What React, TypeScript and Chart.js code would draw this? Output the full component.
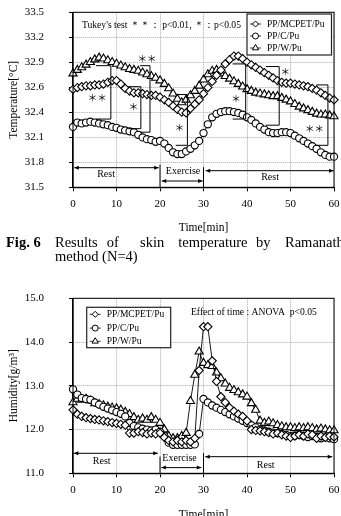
import { useEffect, useRef } from "react";
import { Chart, registerables } from "chart.js";

Chart.register(...registerables);

const SERIF = '"Liberation Serif", "Times New Roman", serif';

// Time axis (minutes)
const minutes = [
  0, 1, 2, 3, 4, 5, 6, 7, 8, 9,
  10, 11, 12, 13, 14, 15, 16, 17, 18, 19,
  20, 21, 22, 23, 24, 25, 26, 27, 28, 29,
  30, 31, 32, 33, 34, 35, 36, 37, 38, 39,
  40, 41, 42, 43, 44, 45, 46, 47, 48, 49,
  50, 51, 52, 53, 54, 55, 56, 57, 58, 59, 60,
];

const seriesNames = ["PP/MCPET/Pu", "PP/C/Pu", "PP/W/Pu"];
const seriesMarkers = ["rectRot", "circle", "triangle"];

// Skin temperature (°C)
const tempMCPET = [
  32.62, 32.64, 32.65, 32.66, 32.66, 32.67, 32.67, 32.68, 32.70, 32.72,
  32.72, 32.68, 32.63, 32.60, 32.58, 32.58, 32.57, 32.56, 32.55, 32.55,
  32.53, 32.50, 32.47, 32.43, 32.39, 32.36, 32.35, 32.40, 32.45, 32.50,
  32.57, 32.64, 32.71, 32.78, 32.84, 32.91, 32.96, 33.00, 33.00, 32.97,
  32.93, 32.90, 32.87, 32.84, 32.81, 32.78, 32.75, 32.72, 32.70, 32.69,
  32.69, 32.68, 32.67, 32.66, 32.65, 32.63, 32.61, 32.58, 32.55, 32.52, 32.50,
];
const tempC = [
  32.19, 32.24, 32.23, 32.24, 32.25, 32.24, 32.23, 32.22, 32.21, 32.19,
  32.18, 32.16, 32.15, 32.14, 32.13, 32.10, 32.07, 32.05, 32.04, 32.02,
  32.03, 32.00, 31.95, 31.90, 31.88, 31.88, 31.91, 31.94, 31.98, 32.03,
  32.12, 32.22, 32.30, 32.34, 32.36, 32.37, 32.37, 32.36, 32.35, 32.33,
  32.30, 32.27, 32.23, 32.19, 32.16, 32.13, 32.12, 32.12, 32.13, 32.13,
  32.12, 32.09, 32.06, 32.03, 32.00, 31.97, 31.94, 31.90, 31.87, 31.85, 31.85,
];
const tempW = [
  32.80, 32.84, 32.87, 32.90, 32.93, 32.96, 32.98, 32.97, 32.95, 32.93,
  32.91, 32.89, 32.87, 32.85, 32.84, 32.83, 32.81, 32.79, 32.77, 32.75,
  32.72, 32.68, 32.63, 32.57, 32.51, 32.47, 32.50, 32.55, 32.60, 32.66,
  32.73, 32.79, 32.83, 32.84, 32.80, 32.77, 32.74, 32.71, 32.68, 32.65,
  32.62, 32.60, 32.58, 32.57, 32.56, 32.55, 32.54, 32.54, 32.52, 32.50,
  32.48, 32.45, 32.42, 32.40, 32.38, 32.36, 32.34, 32.33, 32.33, 32.32, 32.31,
];

// Clothing microclimate humidity (g/m³)
const humMCPET = [
  12.45, 12.35, 12.30, 12.27, 12.25, 12.23, 12.22, 12.20, 12.18, 12.16,
  12.14, 12.12, 12.10, 11.92, 11.92, 11.95, 11.93, 11.90, 11.92, 11.90,
  11.92, 11.82, 11.75, 11.72, 11.75, 11.72, 11.75, 11.72, 11.80, 13.35,
  14.35, 14.35, 13.57, 13.10, 12.75, 12.62, 12.50, 12.42, 12.35, 12.30,
  12.20, 12.00, 11.98, 11.97, 11.95, 11.93, 11.90, 11.92, 11.88, 11.85,
  11.82, 11.85, 11.88, 11.85, 11.90, 11.88, 11.80, 11.85, 11.82, 11.85, 11.83,
];
const humC = [
  12.92, 12.80, 12.72, 12.70, 12.68, 12.62, 12.57, 12.52, 12.48, 12.44,
  12.40, 12.36, 12.30, 12.15, 12.08, 12.05, 12.02, 12.00, 11.98, 12.00,
  11.95, 11.85, 11.70, 11.65, 11.65, 11.65, 11.65, 11.65, 11.66, 11.90,
  12.70, 12.62, 12.55, 12.50, 12.45, 12.40, 12.35, 12.30, 12.25, 12.20,
  12.15, 12.10, 12.05, 12.00, 11.98, 11.95, 11.93, 11.92, 11.90, 11.88,
  11.85, 11.86, 11.88, 11.85, 11.83, 11.85, 11.83, 11.80, 11.82, 11.80, 11.78,
];
const humW = [
  12.62, 12.70, 12.68, 12.70, 12.66, 12.60, 12.58, 12.55, 12.52, 12.50,
  12.48, 12.45, 12.40, 12.35, 12.28, 12.22, 12.25, 12.22, 12.28, 12.22,
  12.15, 12.00, 11.85, 11.80, 11.80, 11.85, 11.92, 12.65, 13.25, 13.78,
  13.52, 13.47, 13.45, 13.30, 13.17, 13.05, 12.95, 12.90, 12.85, 12.80,
  12.75, 12.60, 12.45, 12.20, 12.15, 12.18, 12.14, 12.10, 12.07, 12.05,
  12.05, 12.03, 12.05, 12.03, 12.05, 12.03, 12.00, 12.02, 12.00, 11.98, 11.98,
];

// Tukey brackets on the temperature plot: [from min, to min, upper °C, lower °C]
const tempBrackets = [
  [5.3, 8.7, 32.89, 32.28],
  [12.7, 15.6, 32.65, 32.17],
  [15.4, 17.7, 32.89, 32.13],
  [23.6, 26.3, 32.56, 31.98],
  [36.7, 39.7, 32.91, 32.28],
  [44.3, 47.4, 32.88, 32.21],
  [55.9, 58.6, 32.67, 31.98],
];
// Significance marks: [label, min, °C]
const tempStars: [string, number, number][] = [
  ["＊＊", 5.6, 32.53],
  ["＊", 13.9, 32.42],
  ["＊＊", 17.0, 32.97],
  ["＊", 24.5, 32.19],
  ["＊", 37.5, 32.52],
  ["＊", 48.8, 32.82],
  ["＊＊", 55.5, 32.17],
];

// Phase annotations: arrows [from, to, level], dividers [at, top, bottom], labels
const tempArrows = [[0.3, 19.7, 31.724], [20.4, 29.8, 31.572], [30.5, 59.9, 31.69]];
const tempDividers = [[20, 31.76, 31.5], [30, 31.73, 31.5]];
const tempPhases: [string, number, number][] = [["Rest", 7.6, 31.649], ["Exercise", 25.3, 31.678], ["Rest", 45.3, 31.614]];

const humArrows = [[0.2, 19.5, 11.457], [20.3, 29.5, 11.13], [30.4, 59.6, 11.38]];
const humDividers = [[20, 11.38, 11], [30, 11.46, 11]];
const humPhases: [string, number, number][] = [["Rest", 6.6, 11.265], ["Exercise", 24.5, 11.33], ["Rest", 44.3, 11.19]];

function markerPath(ctx: CanvasRenderingContext2D, style: string, x: number, y: number, r: number) {
  ctx.beginPath();
  if (style === "circle") {
    ctx.arc(x, y, r, 0, Math.PI * 2);
  } else if (style === "rectRot") {
    ctx.moveTo(x - r, y);
    ctx.lineTo(x, y - r);
    ctx.lineTo(x + r, y);
    ctx.lineTo(x, y + r);
    ctx.closePath();
  } else {
    const a = (2 * Math.PI) / 3;
    ctx.moveTo(x, y - r);
    ctx.lineTo(x + Math.sin(a) * r, y - Math.cos(a) * r);
    ctx.lineTo(x + Math.sin(2 * a) * r, y - Math.cos(2 * a) * r);
    ctx.closePath();
  }
}

function arrowHead(ctx: CanvasRenderingContext2D, x: number, y: number, dir: number) {
  ctx.beginPath();
  ctx.moveTo(x, y);
  ctx.lineTo(x - dir * 4.5, y - 2);
  ctx.lineTo(x - dir * 4.5, y + 2);
  ctx.closePath();
  ctx.fill();
}

interface OverlaySpec {
  brackets: number[][];
  stars: [string, number, number][];
  arrows: number[][];
  dividers: number[][];
  phases: [string, number, number][];
  note: string;
  noteX: number;
  noteY: number;
  legendX: (a: { left: number; right: number }) => number;
  legendY: number;
  legendW: number;
  legendH: number;
  rowY: number[];
}

function makeOverlay(spec: OverlaySpec) {
  return {
    id: "overlay",
    afterDraw(chart: Chart) {
      const { ctx, chartArea } = chart;
      const xs = chart.scales.x;
      const ys = chart.scales.y;
      const px = (v: number) => xs.getPixelForValue(v);
      const py = (v: number) => ys.getPixelForValue(v);
      ctx.save();
      ctx.strokeStyle = "#000";
      ctx.fillStyle = "#000";

      // frame
      ctx.lineWidth = 1;
      ctx.strokeRect(chartArea.left, chartArea.top, chartArea.right - chartArea.left, chartArea.bottom - chartArea.top);

      // brackets
      ctx.lineWidth = 1;
      for (const [x0, x1, yt, yb] of spec.brackets) {
        ctx.beginPath();
        ctx.moveTo(px(x0), py(yt));
        ctx.lineTo(px(x1), py(yt));
        ctx.lineTo(px(x1), py(yb));
        ctx.lineTo(px(x0), py(yb));
        ctx.stroke();
      }
      ctx.font = `9.5px "Noto Sans CJK JP", ${SERIF}`;
      ctx.textAlign = "center";
      ctx.textBaseline = "middle";
      for (const [s, x, y] of spec.stars) ctx.fillText(s, px(x), py(y));

      // phase arrows and dividers
      for (const [x0, x1, y] of spec.arrows) {
        const a = px(x0), b = px(x1), yy = py(y);
        ctx.beginPath();
        ctx.moveTo(a, yy);
        ctx.lineTo(b, yy);
        ctx.stroke();
        arrowHead(ctx, a, yy, -1);
        arrowHead(ctx, b, yy, 1);
      }
      for (const [x, y0, y1] of spec.dividers) {
        ctx.beginPath();
        ctx.moveTo(px(x), py(y0));
        ctx.lineTo(px(x), py(y1));
        ctx.stroke();
      }
      ctx.font = `10px ${SERIF}`;
      for (const [s, x, y] of spec.phases) ctx.fillText(s, px(x), py(y));

      // test note
      ctx.font = `9.6px ${SERIF}`;
      ctx.textAlign = "left";
      ctx.fillText(spec.note, chartArea.left + spec.noteX, chartArea.top + spec.noteY);

      // legend
      const lx = spec.legendX(chartArea);
      const ly = chartArea.top + spec.legendY;
      ctx.fillStyle = "#fff";
      ctx.fillRect(lx, ly, spec.legendW, spec.legendH);
      ctx.lineWidth = 1.2;
      ctx.strokeStyle = "#222";
      ctx.strokeRect(lx, ly, spec.legendW, spec.legendH);
      ctx.font = `9.5px ${SERIF}`;
      ctx.textAlign = "left";
      seriesNames.forEach((name, i) => {
        const yy = ly + spec.rowY[i];
        const mx = lx + 8.5;
        ctx.strokeStyle = "#000";
        ctx.lineWidth = 0.8;
        ctx.beginPath();
        ctx.moveTo(mx - 5.5, yy);
        ctx.lineTo(mx + 5.5, yy);
        ctx.stroke();
        markerPath(ctx, seriesMarkers[i], mx, yy, seriesMarkers[i] === "triangle" ? 3.6 : 3);
        ctx.fillStyle = "#fff";
        ctx.fill();
        ctx.lineWidth = 1;
        ctx.stroke();
        ctx.fillStyle = "#000";
        ctx.fillText(name, lx + 20, yy + 0.5);
      });
      ctx.restore();
    },
  };
}

function datasetsFor(values: number[][]) {
  return values.map((vals, i) => ({
    label: seriesNames[i],
    data: minutes.map((m, j) => ({ x: m, y: vals[j] })),
    pointStyle: seriesMarkers[i],
    pointRadius: seriesMarkers[i] === "triangle" ? 4.7 : seriesMarkers[i] === "rectRot" ? 4.1 : 3.6,
    pointBackgroundColor: "#fff",
    pointBorderColor: "#000",
    pointBorderWidth: 1.1,
    borderColor: "#000",
    borderWidth: 0.9,
    showLine: true,
    fill: false,
    tension: 0,
    clip: false as const,
  }));
}

interface ChartSpec {
  height: number;
  padTop: number;
  xHeight: number;
  xTitlePad: number;
  yMin: number;
  yMax: number;
  yStep: number;
  yTitle: string;
  values: number[][];
  overlay: OverlaySpec;
}

function buildConfig(spec: ChartSpec) {
  const gridColor = "#a8a8a8";
  return {
    type: "line" as const,
    data: { datasets: datasetsFor(spec.values) },
    options: {
      animation: false as const,
      responsive: false,
      devicePixelRatio: 1,
      events: [],
      layout: { padding: { top: spec.padTop, right: 7, bottom: 0, left: 0 } },
      plugins: { legend: { display: false }, tooltip: { enabled: false } },
      scales: {
        x: {
          type: "linear" as const,
          min: 0,
          max: 60,
          ticks: { stepSize: 10, maxRotation: 0, padding: 6, color: "#000", font: { family: SERIF, size: 11 } },
          grid: { color: gridColor, tickColor: "#000", tickLength: 4, tickBorderDash: [], lineWidth: 1 },
          border: { color: "#000", width: 1.3, dash: [1, 1] },
          title: { display: true, text: "Time[min]", color: "#000", font: { family: SERIF, size: 11.5 }, padding: { top: 0, bottom: spec.xTitlePad } },
          afterFit: (s: any) => {
            s.height = spec.xHeight;
            s.paddingLeft = 0;
            s.paddingRight = 0;
          },
        },
        y: {
          min: spec.yMin,
          max: spec.yMax,
          ticks: { stepSize: spec.yStep, padding: 25, color: "#000", font: { family: SERIF, size: 11 }, callback: (v: any) => Number(v).toFixed(1) },
          grid: { color: gridColor, tickColor: "#000", tickLength: 4, tickBorderDash: [], lineWidth: 1 },
          border: { color: "#000", width: 1.3, dash: [1, 1] },
          title: { display: true, text: spec.yTitle, color: "#000", font: { family: SERIF, size: 11.5 }, padding: { top: 7, bottom: 0 } },
          afterFit: (s: any) => {
            s.width = 73;
            s.paddingTop = 0;
            s.paddingBottom = 0;
          },
        },
      },
    },
    plugins: [makeOverlay(spec.overlay)],
  };
}

const tempSpec: ChartSpec = {
  height: 236,
  padTop: 12.3,
  xHeight: 236 - 187.3,
  xTitlePad: 1.1,
  yMin: 31.5,
  yMax: 33.5,
  yStep: 2 / 7,
  yTitle: "Temperature[°C]",
  values: [tempMCPET, tempC, tempW],
  overlay: {
    brackets: tempBrackets,
    stars: tempStars,
    arrows: tempArrows,
    dividers: tempDividers,
    phases: tempPhases,
    note: "Tukey's test ＊＊： p<0.01, ＊：p<0.05",
    noteX: 9,
    noteY: 12.7,
    legendX: (a) => a.right - 87,
    legendY: 1.7,
    legendW: 84.5,
    legendH: 41,
    rowY: [10, 22, 34],
  },
};

const humSpec: ChartSpec = {
  height: 246,
  padTop: 14.3,
  xHeight: 246 - 189.3,
  xTitlePad: 8.6,
  yMin: 11,
  yMax: 15,
  yStep: 1,
  yTitle: "Humidity[g/m³]",
  values: [humMCPET, humC, humW],
  overlay: {
    brackets: [],
    stars: [],
    arrows: humArrows,
    dividers: humDividers,
    phases: humPhases,
    note: "Effect of time : ANOVA  p<0.05",
    noteX: 118,
    noteY: 14,
    legendX: (a) => a.left + 13.7,
    legendY: 9,
    legendW: 84,
    legendH: 40.4,
    rowY: [7, 20.8, 34],
  },
};

function ChartCanvas({ spec, top }: { spec: ChartSpec; top: number }) {
  const ref = useRef<HTMLCanvasElement | null>(null);
  useEffect(() => {
    if (!ref.current) return;
    const chart = new Chart(ref.current, buildConfig(spec) as any);
    return () => chart.destroy();
  }, [spec]);
  return (
    <canvas
      ref={ref}
      width={341}
      height={spec.height}
      style={{ position: "absolute", left: 0, top, width: 341, height: spec.height, display: "block" }}
    />
  );
}

export default function App() {
  const word = (text: string, left: number) => (
    <span style={{ position: "absolute", left, top: 0 }}>{text}</span>
  );
  return (
    <div
      style={{
        position: "fixed",
        left: 0,
        top: 0,
        width: 341,
        height: 516,
        overflow: "hidden",
        background: "#fff",
        fontFamily: SERIF,
        color: "#000",
      }}
    >
      <ChartCanvas spec={tempSpec} top={0} />
      <div style={{ position: "absolute", left: 0, top: 235, width: 341, height: 30, fontSize: 14.5, lineHeight: "14px", whiteSpace: "nowrap" }}>
        <div style={{ position: "relative", height: 14 }}>
          <span style={{ position: "absolute", left: 6, top: 0, fontWeight: "bold" }}>Fig. 6</span>
          {word("Results", 55)}
          {word("of", 106.7)}
          {word("skin", 140)}
          {word("temperature", 178.3)}
          {word("by", 256)}
          {word("Ramanathan", 285)}
        </div>
        <div style={{ position: "relative", height: 14 }}>{word("method (N=4)", 55)}</div>
      </div>
      <ChartCanvas spec={humSpec} top={284} />
    </div>
  );
}
